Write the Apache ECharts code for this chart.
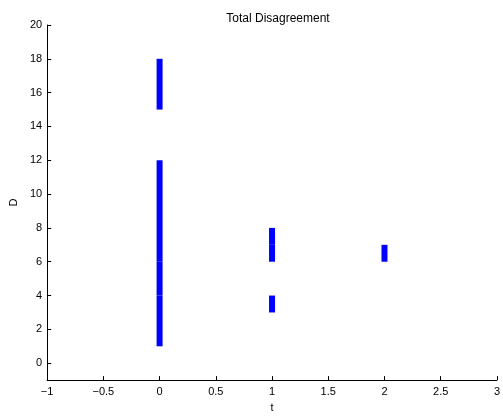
<!DOCTYPE html>
<html><head><meta charset="utf-8">
<script src="https://cdn.jsdelivr.net/npm/echarts@6/dist/echarts.min.js"></script>
<style>html,body{margin:0;padding:0;background:#fff}#c{width:503px;height:418px}</style>
</head><body><div id="c"></div>
<script>
var segX    = [0, 0, 0, 0, 1, 1, 1, 2];
var segLow  = [1, 4, 6, 15, 3, 6, 7, 6];
var segHigh = [4, 6, 12, 18, 4, 7, 8, 7];
var xTicks = [-1, -0.5, 0, 0.5, 1, 1.5, 2, 2.5, 3];
var yTicks = [0, 2, 4, 6, 8, 10, 12, 14, 16, 18, 20];

var chart = echarts.init(document.getElementById('c'), null, {renderer: 'canvas'});
var font = 'Liberation Sans, Arial, Helvetica, sans-serif';
var series = segX.map(function (x, i) {
  return {
    type: 'line', data: [[x, segLow[i]], [x, segHigh[i]]],
    showSymbol: false, symbol: 'none', animation: false,
    lineStyle: {color: '#0000ff', width: 6, cap: 'butt'}
  };
});
chart.setOption({
  animation: false,
  title: {text: 'Total Disagreement', left: 273, top: 8, textAlign: 'center',
    textStyle: {fontFamily: font, fontSize: 12, fontWeight: 'normal', color: '#000'}},
  grid: {left: 44, right: 1, top: 25, bottom: 33, containLabel: false},
  xAxis: {
    type: 'value', min: -1, max: 3, interval: 0.5,
    name: 't', nameLocation: 'middle', nameGap: 20,
    nameTextStyle: {fontFamily: font, fontSize: 11, color: '#000'},
    axisLine: {onZero: false, lineStyle: {color: '#000', width: 1}},
    axisTick: {inside: true, length: 4, customValues: xTicks, lineStyle: {color: '#000'}},
    axisLabel: {fontFamily: font, fontSize: 11, color: '#000', margin: 6, customValues: xTicks,
      formatter: function (v) { return String(v).replace('-', '\u2212'); }},
    splitLine: {show: false}
  },
  yAxis: {
    type: 'value', min: -1, max: 20,
    name: 'D', nameLocation: 'middle', nameGap: 25, nameRotate: 90,
    nameTextStyle: {fontFamily: font, fontSize: 11, color: '#000'},
    axisLine: {onZero: false, lineStyle: {color: '#000', width: 1}},
    axisTick: {inside: true, length: 4, customValues: yTicks, lineStyle: {color: '#000'}},
    axisLabel: {fontFamily: font, fontSize: 11, color: '#000', margin: 5, customValues: yTicks},
    splitLine: {show: false}
  },
  series: series
});
</script></body></html>
